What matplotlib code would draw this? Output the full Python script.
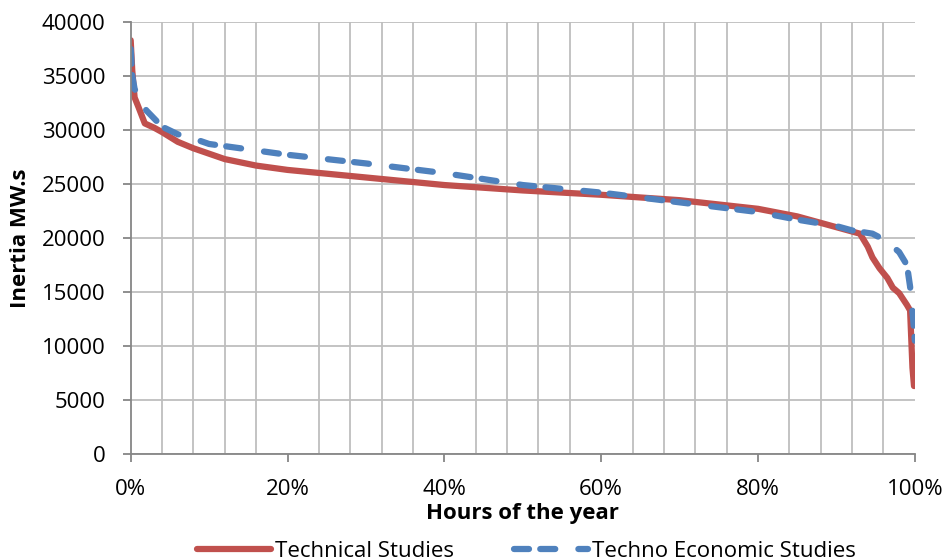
"""Inertia duration curves: technical vs techno-economic studies."""

import matplotlib

matplotlib.use("Agg")
import matplotlib.pyplot as plt
from matplotlib.ticker import FixedLocator, PercentFormatter

# share of hours of the year (fraction) and inertia in MW.s
tech_x = [0.0, 0.002, 0.005, 0.01, 0.018, 0.03, 0.04, 0.06, 0.08, 0.10, 0.12,
          0.16, 0.20, 0.30, 0.40, 0.50, 0.60, 0.70, 0.80, 0.85, 0.88, 0.92,
          0.93, 0.94, 0.946, 0.955, 0.965, 0.972, 0.98, 0.99, 0.994, 0.997,
          0.999]
tech_y = [38300, 35500, 33000, 32100, 30600, 30200, 29800, 28900, 28300,
          27800, 27300, 26700, 26300, 25600, 24900, 24400, 24000, 23500,
          22700, 22000, 21400, 20600, 20400, 19200, 18200, 17200, 16300,
          15400, 14900, 13800, 13300, 8000, 6300]

econ_x = [0.0, 0.002, 0.005, 0.01, 0.02, 0.04, 0.06, 0.08, 0.10, 0.15, 0.20,
          0.30, 0.40, 0.50, 0.60, 0.70, 0.80, 0.85, 0.90, 0.92, 0.946, 0.962,
          0.98, 0.99, 0.994, 0.998, 1.0]
econ_y = [37500, 35000, 33800, 33000, 31800, 30300, 29600, 29200, 28700,
          28200, 27700, 26900, 26000, 24900, 24200, 23300, 22400, 21700,
          21100, 20700, 20400, 19800, 18700, 17500, 15500, 12400, 10500]

RED = "#C0504D"
BLUE = "#4F81BD"
GRID = "#BEBEBE"
AXIS = "#868686"
FS = 16

plt.rcParams["font.family"] = ["Open Sans", "DejaVu Sans"]

fig = plt.figure(figsize=(9.47, 5.6), dpi=100)
ax = fig.add_axes([0.138, 0.189, 0.828, 0.772])

ax.plot(tech_x, tech_y, color=RED, linewidth=4.5, solid_capstyle="round",
        solid_joinstyle="round", label="Technical Studies")
ax.plot(econ_x, econ_y, color=BLUE, linewidth=4.5, dashes=(2.4, 1.8, 2.4, 3.7),
        dash_capstyle="round", label="Techno Economic Studies")

ax.set_xlim(0, 1)
ax.set_ylim(0, 40000)
ax.set_xticks([0, 0.2, 0.4, 0.6, 0.8, 1.0])
ax.xaxis.set_major_formatter(PercentFormatter(1.0, decimals=0))
ax.set_yticks(range(0, 40001, 5000))
ax.xaxis.set_minor_locator(FixedLocator([i * 0.04 for i in range(26)]))

ax.grid(True, which="minor", axis="x", color=GRID, linewidth=1.3)
ax.grid(True, which="major", axis="y", color=GRID, linewidth=1.3)
ax.set_axisbelow(True)
ax.tick_params(axis="x", which="minor", length=0)
ax.tick_params(axis="both", which="major", length=6, width=1.3, color=AXIS,
               labelsize=FS, pad=12)

for side in ("top", "right"):
    ax.spines[side].set_visible(False)
for side in ("left", "bottom"):
    ax.spines[side].set_color(AXIS)
    ax.spines[side].set_linewidth(1.3)

ax.set_xlabel("Hours of the year", fontsize=FS, fontweight="bold", labelpad=2)
ax.set_ylabel("Inertia MW.s", fontsize=FS, fontweight="bold", labelpad=8)

ax.legend(loc="upper center", bbox_to_anchor=(0.505, -0.2), ncol=2, frameon=False,
          fontsize=FS, handlelength=3.3, columnspacing=2.7, handletextpad=0.2,
          borderpad=0, borderaxespad=0)

fig.savefig("out.png", dpi=100)
plt.close(fig)
